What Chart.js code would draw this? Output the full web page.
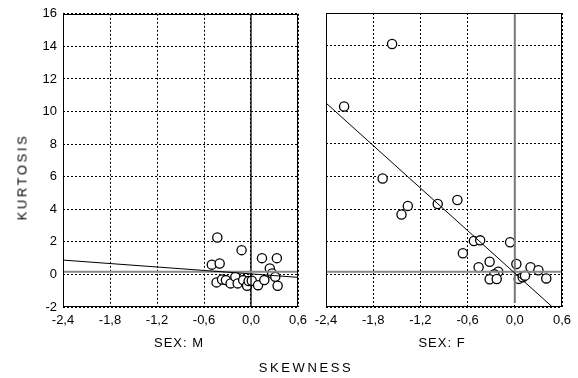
<!DOCTYPE html>
<html>
<head>
<meta charset="utf-8">
<script src="https://cdn.jsdelivr.net/npm/chart.js@4"></script>
<style>
  html, body { margin: 0; padding: 0; background: #fff; }
  #wrap { position: relative; width: 578px; height: 378px; font-family: 'Liberation Sans', Arial, sans-serif; color: #000; }
  #wrap canvas { position: absolute; left: 0; top: 0; }
  .lbl { position: absolute; font-size: 13px; white-space: nowrap; transform: translate(-50%, -50%); }
  .spaced { letter-spacing: 2.6px; }
</style>
</head>
<body>
<div id="wrap">
  <canvas id="chartM" width="578" height="378"></canvas>
  <canvas id="chartF" width="578" height="378"></canvas>
  <div class="lbl spaced" style="left:22px; top:177px; transform: translate(-50%, -50%) rotate(-90deg);">KURTOSIS</div>
  <div class="lbl" style="left:179px; top:342px; letter-spacing:1px;">SEX: M</div>
  <div class="lbl" style="left:442px; top:342px; letter-spacing:1px;">SEX: F</div>
  <div class="lbl spaced" style="left:306px; top:367px;">SKEWNESS</div>
</div>
<script>
// datos
const skewM = [-0.43, -0.12, 0.14, 0.33, -0.50, -0.40, -0.44, -0.37, -0.32, -0.26, -0.20, -0.17, -0.10, -0.05, -0.03, 0.01, 0.09, 0.17, 0.24, 0.27, 0.31, 0.34];
const kurtM = [2.27, 1.49, 1.00, 1.00, 0.60, 0.67, -0.49, -0.31, -0.35, -0.55, -0.15, -0.55, -0.35, -0.70, -0.41, -0.39, -0.66, -0.35, 0.37, 0.06, -0.15, -0.70];

const skewF = [-2.17, -1.56, -1.68, -1.36, -1.44, -0.98, -0.73, -0.52, -0.44, -0.06, -0.66, -0.32, -0.46, 0.02, -0.21, -0.26, -0.32, -0.23, 0.20, 0.30, 0.40, 0.05, 0.10, 0.13];
const kurtF = [10.28, 14.10, 5.87, 4.19, 3.66, 4.31, 4.55, 2.04, 2.08, 1.96, 1.29, 0.77, 0.43, 0.63, 0.16, 0.00, -0.30, -0.29, 0.43, 0.25, -0.25, -0.28, -0.18, -0.08];

// rectas de regresion (extremos en x)
const fitSkew = [-2.4, 0.6];
const fitKurtM = [0.88, -0.18];
const fitKurtF = [10.49, -2.53];

// lineas de referencia
const refKurt = 0.16;
const refSkew = 0;

const xTicks = [-2.4, -1.8, -1.2, -0.6, 0, 0.6];
const yTicks = [-2, 0, 2, 4, 6, 8, 10, 12, 14, 16];

const FONT = { family: "'Liberation Sans', Arial, sans-serif", size: 13 };
const fmt = v => (Math.abs(v) < 1e-9 ? 0 : v).toFixed(1).replace('.', ',');

const frame = {
    id: 'frame',
    afterDatasetsDraw(chart) {
        const a = chart.chartArea;
        const ctx = chart.ctx;
        ctx.save();
        ctx.strokeStyle = '#000';
        ctx.lineWidth = 1;
        ctx.strokeRect(Math.round(a.left) + 0.5, Math.round(a.top) + 0.5,
            Math.round(a.right - a.left) - 1, Math.round(a.bottom - a.top) - 1);
        ctx.restore();
    }
};

function pts(xs, ys) {
    return xs.map((x, i) => ({ x: x, y: ys[i] }));
}

function makeChart(id, xs, ys, fitY, vLine, showY) {
    const datasets = [
        {
            data: pts(fitSkew, fitY),
            showLine: true, borderColor: '#000', borderWidth: 1,
            pointRadius: 0, order: 0
        },
        {
            data: [{ x: fitSkew[0], y: refKurt }, { x: fitSkew[1], y: refKurt }],
            showLine: true, borderColor: '#8a8a8a', borderWidth: 2,
            pointRadius: 0, order: 1
        },
        {
            data: [{ x: refSkew, y: vLine.from }, { x: refSkew, y: 16 }],
            showLine: true, borderColor: vLine.color, borderWidth: vLine.width,
            pointRadius: 0, order: 1
        },
        {
            data: pts(xs, ys),
            pointRadius: 4.6, pointBorderWidth: 1.3,
            pointBorderColor: '#000', pointBackgroundColor: '#fff',
            showLine: false, order: 2
        }
    ];

    return new Chart(document.getElementById(id), {
        type: 'scatter',
        data: { datasets: datasets },
        plugins: [frame],
        options: {
            responsive: false,
            animation: false,
            events: [],
            layout: { padding: showY ? { top: 13, right: 280, left: 0, bottom: 0 } : { top: 13, right: 16, left: 0, bottom: 0 } },
            plugins: { legend: { display: false }, tooltip: { enabled: false } },
            scales: {
                x: {
                    type: 'linear', min: -2.4, max: 0.6,
                    afterBuildTicks: s => { s.ticks = xTicks.map(v => ({ value: v })); },
                    afterFit: s => { s.height = 71; },
                    ticks: { autoSkip: false, maxRotation: 0, color: '#000', font: FONT, padding: 6, callback: v => fmt(v) },
                    grid: { color: '#000', lineWidth: 1, drawTicks: false },
                    border: { display: false, dash: [2, 2] }
                },
                y: {
                    type: 'linear', min: -2, max: 16,
                    afterBuildTicks: s => { s.ticks = yTicks.map(v => ({ value: v })); },
                    afterFit: s => { s.width = showY ? 63 : 326; },
                    ticks: { display: showY, color: '#000', font: FONT, padding: 6, callback: v => String(v) },
                    grid: { color: '#000', lineWidth: 1, drawTicks: false },
                    border: { display: false, dash: [2, 2] }
                }
            }
        }
    });
}

makeChart('chartM', skewM, kurtM, fitKurtM, { from: -2, color: '#000', width: 1.3 }, true);
makeChart('chartF', skewF, kurtF, fitKurtF, { from: -1.75, color: '#777', width: 2 }, false);
</script>
</body>
</html>
